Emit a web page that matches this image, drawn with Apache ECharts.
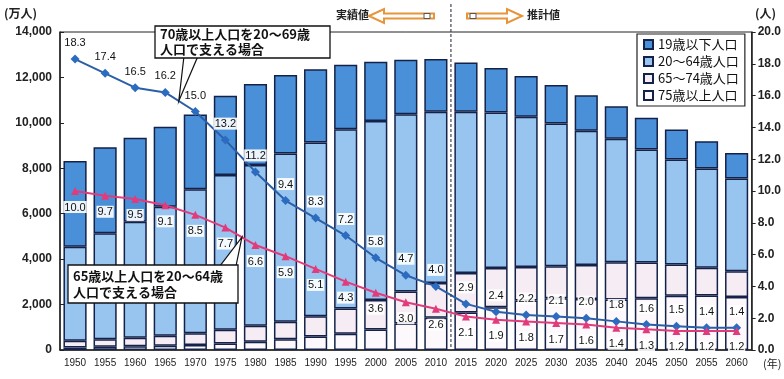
<!DOCTYPE html>
<html><head><meta charset="utf-8">
<script src="https://cdn.jsdelivr.net/npm/echarts@6/dist/echarts.min.js"></script>
<style>html,body{margin:0;padding:0;background:#fff}#c{width:784px;height:379px}</style>
</head><body><div id="c"></div>
<script>
const years = ['1950','1955','1960','1965','1970','1975','1980','1985','1990','1995','2000','2005','2010','2015','2020','2025','2030','2035','2040','2045','2050','2055','2060'];
const age0to19 = [3775,3793,3697,3524,3301,3494,3566,3450,3222,2833,2604,2393,2321,2175,1952,1801,1687,1563,1425,1390,1317,1198,1119];
const age20to64 = [4134,4660,5110,5680,6332,6813,7075,7408,7650,7898,7885,7808,7537,7090,6846,6608,6290,5908,5435,4975,4623,4369,4091];
const age65to74 = [305,336,372,435,516,603,699,776,892,1109,1301,1412,1529,1749,1733,1479,1407,1496,1645,1579,1383,1225,1128];
const age75plus = [106,139,163,189,224,284,366,471,597,717,900,1164,1419,1646,1879,2179,2278,2245,2223,2277,2385,2401,2336];
const ratio70 = [18.3,17.4,16.5,16.2,15.0,13.2,11.2,9.4,8.3,7.2,5.8,4.7,4.0,2.9,2.4,2.2,2.1,2.0,1.8,1.6,1.5,1.4,1.4];
const ratio65 = [10.0,9.7,9.5,9.1,8.5,7.7,6.6,5.9,5.1,4.3,3.6,3.0,2.6,2.1,1.9,1.8,1.7,1.6,1.4,1.3,1.2,1.2,1.2];
const leftTicks = [0,2000,4000,6000,8000,10000,12000,14000];
const rightTicks = [0,2,4,6,8,10,12,14,16,18,20];
const names = ['19歳以下人口','20～64歳人口','65～74歳人口','75歳以上人口'];

const NUM = 'Liberation Sans, Arial, sans-serif';
const CJK = 'Noto Sans CJK JP, sans-serif';
const chart = echarts.init(document.getElementById('c'));
const border = '#14224a';
function bar(name, data, color){
  return {name, type:'bar', stack:'p', data, barWidth:'77%', yAxisIndex:0,
    itemStyle:{color, borderColor:border, borderWidth:1.5}, emphasis:{disabled:true}};
}
const lblBox = {backgroundColor:'rgba(255,255,255,0.9)', padding:[1,1,0,1]};
chart.setOption({
  animation:false,
  grid:{left:60, right:31, top:32, bottom:29, show:true, borderColor:'#222', borderWidth:1},
  legend:{data:names, orient:'vertical', left:637, top:34, padding:[4,6,4,6], itemWidth:9, itemHeight:9, itemGap:4,
    backgroundColor:'#fff', borderColor:'#222', borderWidth:1.2, icon:'rect',
    textStyle:{fontFamily:CJK, fontSize:13, color:'#111', lineHeight:13}},
  xAxis:{type:'category', data:years, boundaryGap:true,
    axisLine:{lineStyle:{color:'#222', width:1.5}}, axisTick:{inside:true, length:4, lineStyle:{color:'#222'}},
    axisLabel:{fontFamily:NUM, fontSize:10, color:'#222', margin:8, interval:0}},
  yAxis:[
    {type:'value', min:0, max:14000, interval:2000, splitLine:{show:false},
     axisLine:{show:true, lineStyle:{color:'#222', width:1.5}}, axisTick:{show:true, inside:true, length:4, lineStyle:{color:'#222'}},
     axisLabel:{fontFamily:NUM, fontSize:12, fontWeight:'bold', color:'#222', margin:8,
       formatter:v=>v.toLocaleString('en-US')}},
    {type:'value', min:0, max:20, interval:2, splitLine:{show:false}, position:'right',
     axisLine:{show:true, lineStyle:{color:'#222', width:1.5}}, axisTick:{show:true, length:4, lineStyle:{color:'#222'}},
     axisLabel:{fontFamily:NUM, fontSize:12, fontWeight:'bold', color:'#222', margin:6, formatter:v=>v.toFixed(1)}}
  ],
  series:[
    bar(names[3], age75plus, '#fdf8fb'),
    bar(names[2], age65to74, '#f6ecf3'),
    bar(names[1], age20to64, '#97c5ef'),
    bar(names[0], age0to19, '#4a90d8'),
    {name:'r70', type:'line', yAxisIndex:1, data:ratio70, z:5, symbol:'diamond', symbolSize:9,
     lineStyle:{color:'#2c5fa8', width:2}, itemStyle:{color:'#2c6cc0'},
     label:{show:true, position:'top', distance:6, fontFamily:NUM, fontSize:11, color:'#111', formatter:p=>p.value.toFixed(1), ...lblBox}},
    {name:'r65', type:'line', yAxisIndex:1, data:ratio65, z:5, symbol:'triangle', symbolSize:8,
     lineStyle:{color:'#e23b7c', width:2}, itemStyle:{color:'#e23b7c'},
     label:{show:true, position:'bottom', distance:6, fontFamily:NUM, fontSize:11, color:'#111', formatter:p=>p.value.toFixed(1), ...lblBox}}
  ]
});

function px(i, v){ return chart.convertToPixel({xAxisIndex:0, yAxisIndex:1}, [i, v]); }
function mid(a,b,t){ return [a[0]+(b[0]-a[0])*t, a[1]+(b[1]-a[1])*t]; }
const t1 = mid(px(3, ratio70[3]), px(4, ratio70[4]), 0.45);
const t2 = mid(px(5, ratio65[5]), px(6, ratio65[6]), 0.55);
const xa = chart.convertToPixel({xAxisIndex:0}, 12), xb = chart.convertToPixel({xAxisIndex:0}, 13);
const sepX = (xa + xb) / 2;
const orange = '#e8943a';
chart.setOption({graphic:[
  {type:'text', left:4, top:7, style:{text:'(万人)', font:'bold 12px '+CJK, fill:'#222'}},
  {type:'text', left:755, top:7, style:{text:'(人)', font:'bold 12px '+CJK, fill:'#222'}},
  {type:'text', left:763, top:358, style:{text:'(年)', font:'11px '+CJK, fill:'#222'}},
  {type:'line', shape:{x1:sepX, y1:4, x2:sepX, y2:350}, style:{stroke:'#445', lineWidth:1.2, lineDash:[3,2]}, z:20},
  {type:'text', left:336, top:9, style:{text:'実績値', font:'bold 11px '+CJK, fill:'#222'}},
  {type:'polygon', shape:{points:[[369,16],[384,9],[384,13.5],[434,13.5],[434,18.5],[384,18.5],[384,23]]}, style:{fill:'#fff', stroke:orange, lineWidth:2}},
  {type:'rect', shape:{x:424, y:13.5, width:6, height:5}, style:{fill:'#fff', stroke:'#555', lineWidth:1}},
  {type:'polygon', shape:{points:[[522,16],[507,9],[507,13.5],[467,13.5],[467,18.5],[507,18.5],[507,23]]}, style:{fill:'#fff', stroke:orange, lineWidth:2}},
  {type:'rect', shape:{x:470, y:13.5, width:6, height:5}, style:{fill:'#fff', stroke:'#555', lineWidth:1}},
  {type:'text', left:527, top:9, style:{text:'推計値', font:'bold 11px '+CJK, fill:'#222'}},
  {type:'polygon', z:30, shape:{points:[[184,56],[198,56],t1]}, style:{fill:'#fff', stroke:'#111', lineWidth:1.2}},
  {type:'rect', z:31, shape:{x:155, y:26, width:175, height:32}, style:{fill:'#fff', stroke:'#111', lineWidth:1.3}},
  {type:'text', z:32, left:160, top:27, style:{text:'70歳以上人口を20～69歳\n人口で支える場合', font:'bold 13px '+CJK, lineHeight:15, fill:'#111'}},
  {type:'polygon', z:30, shape:{points:[[220,266],[236,266],t2]}, style:{fill:'#fff', stroke:'#111', lineWidth:1.2}},
  {type:'rect', z:31, shape:{x:68, y:265, width:170, height:38}, style:{fill:'#fff', stroke:'#111', lineWidth:1.3}},
  {type:'text', z:32, left:73, top:268, style:{text:'65歳以上人口を20～64歳\n人口で支える場合', font:'bold 13px '+CJK, lineHeight:16, fill:'#111'}}
]});
</script></body></html>
